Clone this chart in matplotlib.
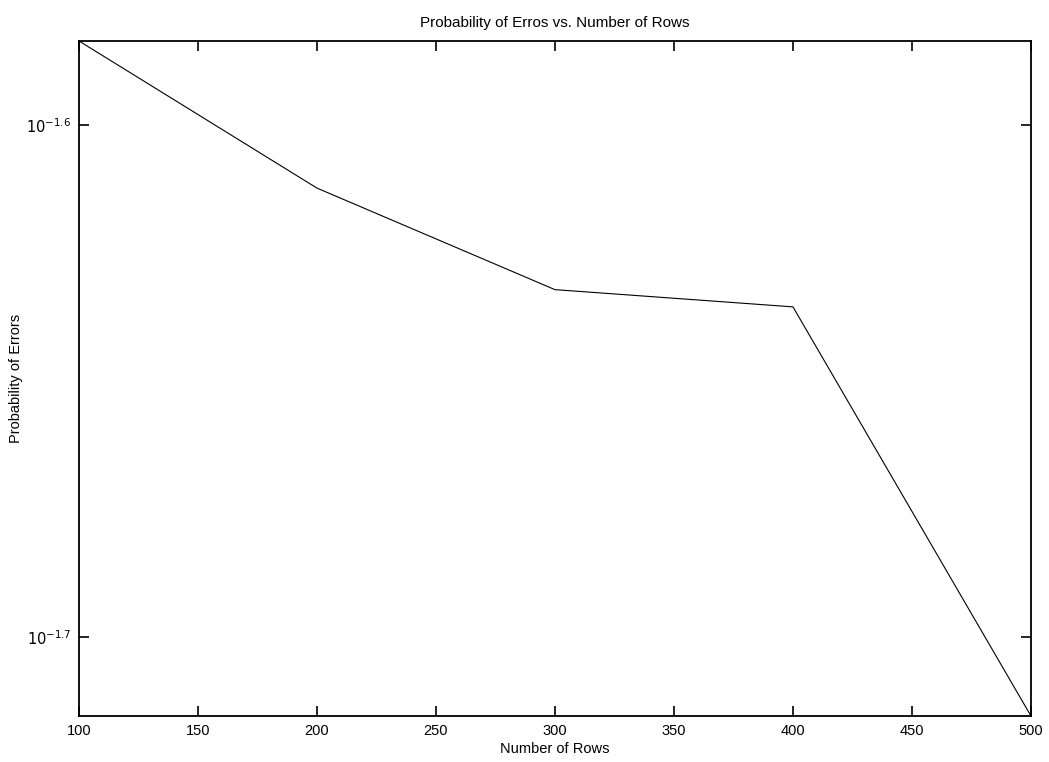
import matplotlib.pyplot as plt
from matplotlib.ticker import FixedLocator, FixedFormatter, NullLocator

plt.rcParams['font.family'] = ['Liberation Sans', 'DejaVu Sans']

# values (log y axis)
rows = [100, 200, 300, 400, 500]
prob_errors = [0.02609, 0.02442, 0.02333, 0.02315, 0.01926]

x_ticks = [100, 150, 200, 250, 300, 350, 400, 450, 500]
y_ticks = [10 ** -1.6, 10 ** -1.7]
y_tick_labels = ['$10^{-1.6}$', '$10^{-1.7}$']

fig = plt.figure(figsize=(10.49, 7.62), dpi=100)
ax = fig.add_axes([0.0753, 0.0604, 0.9075, 0.8858])

ax.plot(rows, prob_errors, color='black', linewidth=0.8)
ax.set_yscale('log')
ax.set_xlim(100, 500)
ax.set_ylim(min(prob_errors), max(prob_errors))

ax.set_xticks(x_ticks)
ax.yaxis.set_major_locator(FixedLocator(y_ticks))
ax.yaxis.set_major_formatter(FixedFormatter(y_tick_labels))
ax.yaxis.set_minor_locator(NullLocator())

ax.tick_params(direction='in', length=7, width=1.2, top=True, right=True,
               labelsize=10.5, pad=6)
for sp in ax.spines.values():
    sp.set_linewidth(1.3)

ax.set_title('Probability of Erros vs. Number of Rows', fontsize=11, pad=10)
ax.set_xlabel('Number of Rows', fontsize=10.5, labelpad=3)
ax.set_ylabel('Probability of Errors', fontsize=10.5, labelpad=2)

fig.savefig('out.png', dpi=100, facecolor='white')
